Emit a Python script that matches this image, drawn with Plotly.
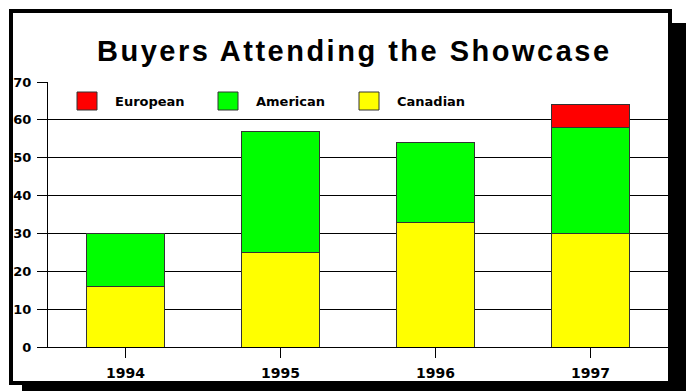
import plotly.graph_objects as go

# ---- data ----
years = ["1994", "1995", "1996", "1997"]
canadian = [16, 25, 33, 30]
american = [14, 32, 21, 28]
european = [None, None, None, 6]
series_names = ["European", "American", "Canadian"]
series_colors = ["#FF0000", "#00FF00", "#FFFF00"]
y_ticks = [0, 10, 20, 30, 40, 50, 60, 70]
title_text = "Buyers Attending the Showcase"

W, H = 686, 391
L, R, T, B = 48, 18, 82, 44
PW, PH = W - L - R, H - T - B


def px(x):
    return (x - L) / PW


def py(y):
    return (H - B - y) / PH


fig = go.Figure()
stack = [("Canadian", canadian), ("American", american), ("European", european)]
for name, vals in stack:
    col = series_colors[series_names.index(name)]
    fig.add_trace(go.Bar(
        x=years, y=vals, name=name, showlegend=False,
        marker=dict(color=col, line=dict(color="#333333", width=1)),
    ))

shapes = []
# drop shadow
shapes.append(dict(type="rect", xref="paper", yref="paper", layer="below",
                   x0=px(22), x1=px(700), y0=py(400), y1=py(23),
                   fillcolor="black", line=dict(width=0)))
# white panel with border
shapes.append(dict(type="rect", xref="paper", yref="paper", layer="below",
                   x0=px(11), x1=px(670), y0=py(383), y1=py(11),
                   fillcolor="white", line=dict(color="black", width=4)))

annotations = []
for i, (nm, col) in enumerate(zip(series_names, series_colors)):
    x0 = 77 + i * 141
    shapes.append(dict(type="rect", xref="paper", yref="paper", layer="above",
                       x0=px(x0), x1=px(x0 + 20), y0=py(110), y1=py(92),
                       fillcolor=col, line=dict(color="#333333", width=1)))
    annotations.append(dict(xref="paper", yref="paper", x=px(x0 + 36), y=py(101),
                            xanchor="left", yanchor="middle", showarrow=False,
                            text=nm, font=dict(family="DejaVu Sans", size=13,
                                               color="black", weight="bold")))

annotations.append(dict(xref="paper", yref="paper", x=px(354.5), y=py(51),
                        xanchor="center", yanchor="middle", showarrow=False,
                        text='<span style="letter-spacing:2.5px">' + title_text + '</span>',
                        font=dict(family="Liberation Sans", size=29, color="black",
                                  weight="bold")))

fig.update_layout(
    width=W, height=H,
    margin=dict(l=L, r=R, t=T, b=B, pad=0, autoexpand=False),
    paper_bgcolor="white", plot_bgcolor="rgba(0,0,0,0)",
    barmode="stack", bargap=0.5,
    shapes=shapes, annotations=annotations,
    showlegend=False,
    xaxis=dict(type="category", showline=True, linecolor="black", linewidth=1,
               ticks="outside", ticklen=10, tickcolor="black", tickwidth=1,
               ticklabelstandoff=3, automargin=False,
               showgrid=False, fixedrange=True,
               tickfont=dict(family="DejaVu Sans", size=14, color="black", weight="bold")),
    yaxis=dict(range=[0, 70], tickvals=y_ticks, showline=True, linecolor="black",
               linewidth=1, ticks="outside", ticklen=10, tickcolor="black",
               ticklabelstandoff=3, automargin=False,
               showgrid=True, gridcolor="black", gridwidth=1, zeroline=False,
               fixedrange=True,
               tickfont=dict(family="DejaVu Sans", size=13, color="black", weight="bold")),
)

fig.write_html("out.html")
